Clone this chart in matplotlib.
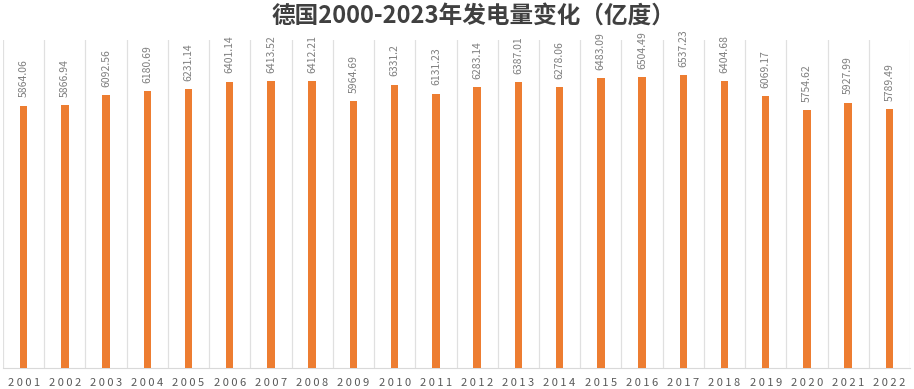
import matplotlib.pyplot as plt

plt.rcParams['font.family'] = ['Noto Sans CJK SC', 'DejaVu Sans']

# 德国历年发电量（亿度）
years = [str(y) for y in range(2001, 2023)]
power = [5864.06, 5866.94, 6092.56, 6180.69, 6231.14, 6401.14, 6413.52, 6412.21,
         5964.69, 6331.2, 6131.23, 6283.14, 6387.01, 6278.06, 6483.09, 6504.49,
         6537.23, 6404.68, 6069.17, 5754.62, 5927.99, 5789.49]
value_labels = ['5864.06', '5866.94', '6092.56', '6180.69', '6231.14', '6401.14',
                '6413.52', '6412.21', '5964.69', '6331.2', '6131.23', '6283.14',
                '6387.01', '6278.06', '6483.09', '6504.49', '6537.23', '6404.68',
                '6069.17', '5754.62', '5927.99', '5789.49']

fig = plt.figure(figsize=(9.14, 3.89), dpi=100)
ax = fig.add_axes([3 / 914, 1 - 368 / 389, 907 / 914, 328 / 389])

x = list(range(len(years)))
bars = ax.bar(x, power, width=0.18, color='#ED7D31', zorder=3)

# value labels above each bar, rotated
for rect, lab in zip(bars, value_labels):
    ax.annotate(lab, (rect.get_x() + rect.get_width() / 2, rect.get_height()),
                xytext=(0, 6), textcoords='offset points', rotation=90,
                ha='center', va='bottom', fontsize=7.5, color='#7f7f7f')

ax.set_xlim(-0.5, len(years) - 0.5)
ax.set_ylim(0, 7330)

# vertical separators between categories
for b in range(len(years) + 1):
    ax.axvline(b - 0.5, color='#e0e0e0', linewidth=0.9, zorder=1)

ax.set_xticks(x)
ax.set_xticklabels([' '.join(y) for y in years], fontsize=8, color='#595959')
ax.tick_params(axis='x', length=0, pad=7)
ax.set_yticks([])
for side in ['top', 'left', 'right']:
    ax.spines[side].set_visible(False)
ax.spines['bottom'].set_color('#d9d9d9')

fig.text(473 / 914, 1 - 16 / 389, '德国2000-2023年发电量变化（亿度）', ha='center', va='center',
         fontsize=17, fontweight='bold', color='#404040')

fig.savefig('out.png', dpi=100)
